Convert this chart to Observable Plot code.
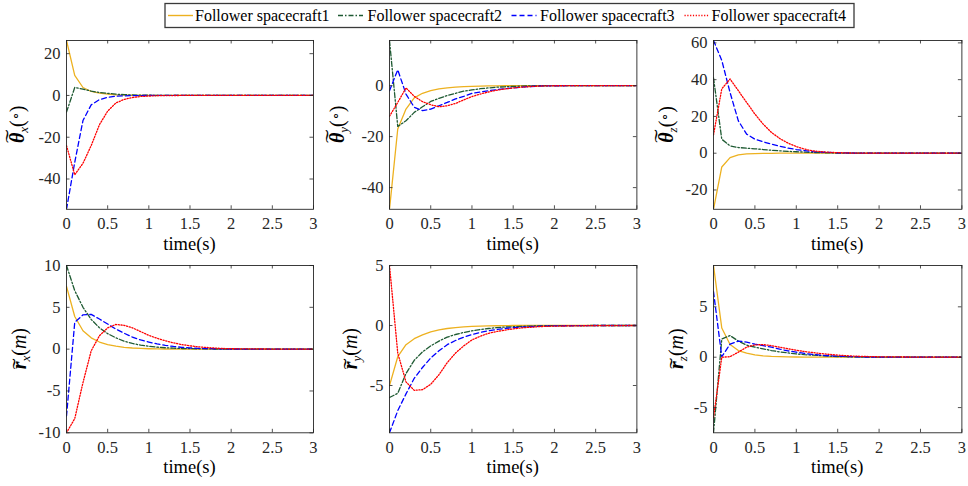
<!DOCTYPE html>
<html>
<head>
<meta charset="utf-8">
<script src="https://cdn.jsdelivr.net/npm/d3@7"></script>
<script src="https://cdn.jsdelivr.net/npm/@observablehq/plot@0.6"></script>
<style>
  html, body { margin: 0; padding: 0; background: #fff; }
  #root { position: relative; width: 968px; height: 486px; overflow: hidden; font-family: 'Liberation Serif', serif; }
  .panel { position: absolute; }
  #legend { position: absolute; left: 0; top: 0; }
</style>
</head>
<body>
<div id="root"></div>
<script>
// ---------- data ----------
const time = [0,0.1,0.2,0.3,0.4,0.5,0.6,0.7,0.8,0.9,1.0,1.1,1.2,1.3,1.4,1.5,1.6,1.7,1.8,1.9,2.0,2.5,3.0];
const seriesNames = ["Follower spacecraft1","Follower spacecraft2","Follower spacecraft3","Follower spacecraft4"];
const seriesColors = ["#EDB120","#1E5A32","#0000FF","#FF0000"];
const seriesDash = [null,"5,2,1.5,2","5,3","1.2,1.6"];
const xTicks = [0,0.5,1,1.5,2,2.5,3];

const thetaX_sc1 = [26.3,9.6,3.8,1.9,1.1,0.6,0.3,0.15,0.08,0.04,0.02,0.01,0,0,0,0,0,0,0,0,0,0,0];
const thetaX_sc2 = [-8,3.8,3.0,2.1,1.4,1.0,0.6,0.4,0.25,0.15,0.1,0.06,0.03,0.02,0,0,0,0,0,0,0,0,0];
const thetaX_sc3 = [-54.5,-32,-12,-4.5,-2,-0.9,-0.4,-0.2,-0.1,-0.05,0,0,0,0,0,0,0,0,0,0,0,0,0];
const thetaX_sc4 = [-24,-38,-32.5,-24,-14,-7.5,-3.6,-1.9,-1,-0.5,-0.3,-0.15,-0.08,-0.04,0,0,0,0,0,0,0,0,0];

const thetaY_sc1 = [-48.5,-17,-9.2,-4.8,-3.0,-2.0,-1.3,-0.9,-0.6,-0.4,-0.3,-0.2,-0.1,-0.07,-0.04,-0.02,0,0,0,0,0,0,0];
const thetaY_sc2 = [17.7,-16,-13.8,-10.5,-8.3,-6.2,-5,-3.9,-3,-2.2,-1.7,-1.2,-0.9,-0.6,-0.45,-0.3,-0.2,-0.1,-0.06,-0.03,0,0,0];
const thetaY_sc3 = [-2,6.2,-3.3,-8.5,-9.8,-9.2,-7.9,-6.6,-5.2,-4.2,-3.0,-2.5,-2.0,-1.6,-1.2,-0.9,-0.6,-0.35,-0.2,-0.1,-0.05,0,0];
const thetaY_sc4 = [-12,-6.6,-0.9,-4.2,-6.3,-7.5,-8.3,-7.9,-7,-5.6,-4.3,-3.3,-2.5,-1.8,-1.3,-0.9,-0.6,-0.4,-0.2,-0.1,-0.05,0,0];

const thetaZ_sc1 = [-30.5,-7.5,-2.4,-0.9,-0.4,-0.2,-0.1,-0.05,0,0,0,0,0,0,0,0,0,0,0,0,0,0,0];
const thetaZ_sc2 = [41,7.6,4,3.1,2.7,2.4,2,1.6,1.3,1.0,0.8,0.6,0.4,0.3,0.2,0.1,0.05,0,0,0,0,0,0];
const thetaZ_sc3 = [61.3,50.5,33,17.6,10.4,7.6,6.2,4.9,3.8,2.8,2.0,1.4,0.9,0.6,0.4,0.25,0.15,0.08,0.04,0.02,0,0,0];
const thetaZ_sc4 = [10,35,40.4,34,27.6,21.3,15.8,11.3,8,5.5,3.6,2.2,1.3,0.8,0.5,0.3,0.15,0.08,0.04,0.02,0,0,0];

const rX_sc1 = [7.5,3.9,2.2,1.35,0.85,0.55,0.35,0.22,0.14,0.09,0.05,0.03,0.02,0.01,0,0,0,0,0,0,0,0,0];
const rX_sc2 = [10,7,5,3.55,2.55,1.85,1.35,0.95,0.68,0.48,0.34,0.24,0.17,0.12,0.08,0.06,0.04,0.03,0.02,0.01,0,0,0];
const rX_sc3 = [-8,3.2,4.1,4.15,3.6,3.0,2.4,1.9,1.45,1.1,0.85,0.62,0.45,0.32,0.22,0.15,0.1,0.07,0.05,0.03,0.02,0,0];
const rX_sc4 = [-10,-8.3,-4,-0.2,1.6,2.55,2.95,2.85,2.55,2.1,1.65,1.3,1.0,0.75,0.55,0.4,0.28,0.2,0.13,0.08,0.05,0.01,0];

const rY_sc1 = [-5,-2.6,-1.6,-1.1,-0.78,-0.53,-0.36,-0.25,-0.17,-0.12,-0.08,-0.05,-0.03,-0.02,-0.01,0,0,0,0,0,0,0,0];
const rY_sc2 = [-6,-5.65,-4.0,-2.9,-2.2,-1.7,-1.3,-0.97,-0.75,-0.58,-0.44,-0.33,-0.25,-0.18,-0.13,-0.1,-0.07,-0.05,-0.03,-0.02,-0.01,0,0];
const rY_sc3 = [-8.94,-7.1,-5.7,-4.4,-3.5,-2.7,-2.1,-1.6,-1.25,-0.97,-0.75,-0.58,-0.44,-0.33,-0.25,-0.18,-0.13,-0.1,-0.07,-0.05,-0.03,0,0];
const rY_sc4 = [5,-2.3,-4.7,-5.4,-5.35,-4.9,-4.1,-3.1,-2.3,-1.7,-1.2,-0.9,-0.65,-0.5,-0.38,-0.28,-0.2,-0.15,-0.1,-0.07,-0.05,-0.01,0];

const rZ_sc1 = [9.1,2.9,1.26,0.66,0.4,0.23,0.13,0.08,0.05,0.03,0.02,0.01,0,0,0,0,0,0,0,0,0,0,0];
const rZ_sc2 = [-7.5,1.8,2.15,1.6,1.2,1.0,0.83,0.66,0.53,0.43,0.33,0.25,0.2,0.15,0.1,0.07,0.05,0.03,0.02,0.01,0,0,0];
const rZ_sc3 = [6.5,0.05,1.3,1.6,1.5,1.3,1.15,1.0,0.8,0.63,0.5,0.37,0.28,0.2,0.14,0.1,0.07,0.05,0.03,0.02,0.01,0,0];
const rZ_sc4 = [-6,0,0.05,0.5,1.0,1.22,1.25,1.15,1.0,0.83,0.7,0.56,0.46,0.36,0.28,0.21,0.15,0.11,0.08,0.06,0.04,0.01,0];

const thetaX_domain = [-54.5, 26.3], thetaX_ticks = [-40,-20,0,20];
const thetaY_domain = [-48.5, 17.7], thetaY_ticks = [-40,-20,0];
const thetaZ_domain = [-30.5, 61.3], thetaZ_ticks = [-20,0,20,40,60];
const rX_domain = [-10, 10],        rX_ticks = [-10,-5,0,5,10];
const rY_domain = [-8.94, 5],       rY_ticks = [-5,0,5];
const rZ_domain = [-7.5, 9.1],      rZ_ticks = [-5,0,5];

// ---------- layout ----------
const FONT = "'Liberation Serif', 'Times New Roman', serif";
const cols = [[66,313],[389.3,636.7],[713.3,961.7]];
const rowsY = [[39.5,208.3],[265,432.3]];
const ML = 66, MR = 6, MT = 6, MB = 50, TL = 3.5;
const axisColor = "#262626";

const panels = [
  {c:0, r:0, series:[thetaX_sc1,thetaX_sc2,thetaX_sc3,thetaX_sc4], domain:thetaX_domain, ticks:thetaX_ticks, sym:"θ", sub:"x", unit:"deg", off:48},
  {c:1, r:0, series:[thetaY_sc1,thetaY_sc2,thetaY_sc3,thetaY_sc4], domain:thetaY_domain, ticks:thetaY_ticks, sym:"θ", sub:"y", unit:"deg", off:51},
  {c:2, r:0, series:[thetaZ_sc1,thetaZ_sc2,thetaZ_sc3,thetaZ_sc4], domain:thetaZ_domain, ticks:thetaZ_ticks, sym:"θ", sub:"z", unit:"deg", off:46},
  {c:0, r:1, series:[rX_sc1,rX_sc2,rX_sc3,rX_sc4], domain:rX_domain, ticks:rX_ticks, sym:"r", sub:"x", unit:"m", off:46},
  {c:1, r:1, series:[rY_sc1,rY_sc2,rY_sc3,rY_sc4], domain:rY_domain, ticks:rY_ticks, sym:"r", sub:"y", unit:"m", off:38},
  {c:2, r:1, series:[rZ_sc1,rZ_sc2,rZ_sc3,rZ_sc4], domain:rZ_domain, ticks:rZ_ticks, sym:"r", sub:"z", unit:"m", off:36},
];

const root = document.getElementById("root");

for (const p of panels) {
  const [x0, x1] = cols[p.c], [y0, y1] = rowsY[p.r];
  const fw = x1 - x0, fh = y1 - y0;
  const data = [];
  p.series.forEach((arr, i) => arr.forEach((v, j) => data.push({t: time[j], v, s: i})));
  const marks = [];
  seriesNames.forEach((name, i) => {
    marks.push(Plot.line(data.filter(d => d.s === i), {
      x: "t", y: "v", stroke: seriesColors[i], strokeWidth: 1.3,
      strokeDasharray: seriesDash[i] || undefined, clip: true
    }));
  });
  marks.push(Plot.frame({stroke: axisColor, strokeWidth: 0.9}));
  marks.push(Plot.tickX(xTicks, {x: d => d, stroke: axisColor, strokeWidth: 0.8, insetTop: fh - TL}));
  marks.push(Plot.tickX(xTicks, {x: d => d, stroke: axisColor, strokeWidth: 0.8, insetBottom: fh - TL}));
  marks.push(Plot.tickY(p.ticks, {y: d => d, stroke: axisColor, strokeWidth: 0.8, insetRight: fw - TL}));
  marks.push(Plot.tickY(p.ticks, {y: d => d, stroke: axisColor, strokeWidth: 0.8, insetLeft: fw - TL}));
  marks.push(Plot.axisX({ticks: xTicks, tickSize: 0, tickPadding: 8, tickFormat: d => String(d), label: null, fontSize: 16.5}));
  marks.push(Plot.axisY({ticks: p.ticks, tickSize: 0, tickPadding: 6, tickFormat: d => String(d), label: null, fontSize: 16.5}));

  const svgEl = Plot.plot({
    width: fw + ML + MR, height: fh + MT + MB,
    marginLeft: ML, marginRight: MR, marginTop: MT, marginBottom: MB,
    style: {background: "transparent", overflow: "visible", fontFamily: FONT, fontSize: "16.5px", color: axisColor},
    x: {domain: [0, 3]},
    y: {domain: p.domain},
    marks
  });

  const div = document.createElement("div");
  div.className = "panel";
  div.style.left = (x0 - ML) + "px";
  div.style.top = (y0 - MT) + "px";
  div.style.width = (fw + ML + MR) + "px";
  div.appendChild(svgEl);
  root.appendChild(div);

  const svg = d3.select(svgEl);
  // x label
  svg.append("text")
    .attr("x", ML + fw / 2).attr("y", MT + fh + 35)
    .attr("text-anchor", "middle").attr("dominant-baseline", "central")
    .attr("fill", "#000").attr("font-family", FONT).style("font-size", "18.5px")
    .text("time(s)");
  // y label (rotated); baseline on local y = 0
  const g = svg.append("g")
    .attr("transform", `translate(${ML - p.off + 6},${MT + fh / 2}) rotate(-90)`)
    .attr("font-family", FONT);
  const yl = g.append("text").attr("text-anchor", "middle").attr("fill", "#000").style("font-size", "20px");
  yl.append("tspan").attr("font-weight", "bold").attr("font-style", "italic").text(p.sym);
  yl.append("tspan").attr("font-style", "italic").style("font-size", "13px").attr("dy", 4).text(p.sub);
  if (p.unit === "deg") {
    yl.append("tspan").attr("dy", -4).text("(");
    yl.append("tspan").style("font-size", "13px").attr("dy", -5).text("\u2218");
    yl.append("tspan").attr("dy", 5).text(")");
  } else {
    yl.append("tspan").attr("dy", -4).text("(");
    yl.append("tspan").attr("font-style", "italic").text("m");
    yl.append("tspan").text(")");
  }
  // wide tilde accent over the bold symbol
  const node = yl.node();
  const a = node.getStartPositionOfChar(0), b = node.getEndPositionOfChar(0);
  const mid = (a.x + b.x) / 2 + 1.5;
  const isTheta = p.sym === "θ";
  g.append("text")
    .attr("transform", `translate(${mid},${isTheta ? -4 : 0.5}) scale(${isTheta ? 2.0 : 1.6},1)`)
    .attr("text-anchor", "middle").attr("fill", "#000")
    .style("font-size", "20px")
    .text("\u02DC");
}

// ---------- legend (SVG) ----------
const legendBox = {x0: 165, x1: 854, y0: 3.5, y1: 27.5};
const swatchX = [168, 338, 511.5, 684.5];
const labelX = [195, 367.5, 540, 711.5];
const lg = d3.create("svg").attr("id", "legend").attr("width", 968).attr("height", 32)
  .attr("font-family", FONT);
lg.append("rect").attr("x", legendBox.x0).attr("y", legendBox.y0)
  .attr("width", legendBox.x1 - legendBox.x0).attr("height", legendBox.y1 - legendBox.y0)
  .attr("fill", "#fff").attr("stroke", "#3a3a3a").attr("stroke-width", 1.3);
seriesNames.forEach((name, i) => {
  const cy = (legendBox.y0 + legendBox.y1) / 2;
  lg.append("line").attr("x1", swatchX[i]).attr("x2", swatchX[i] + 25).attr("y1", cy).attr("y2", cy)
    .attr("stroke", seriesColors[i]).attr("stroke-width", 1.4)
    .attr("stroke-dasharray", seriesDash[i]);
  lg.append("text").attr("x", labelX[i]).attr("y", cy).attr("dominant-baseline", "central")
    .attr("fill", "#000").style("font-size", "16px").text(name);
});
root.appendChild(lg.node());
</script>
</body>
</html>
